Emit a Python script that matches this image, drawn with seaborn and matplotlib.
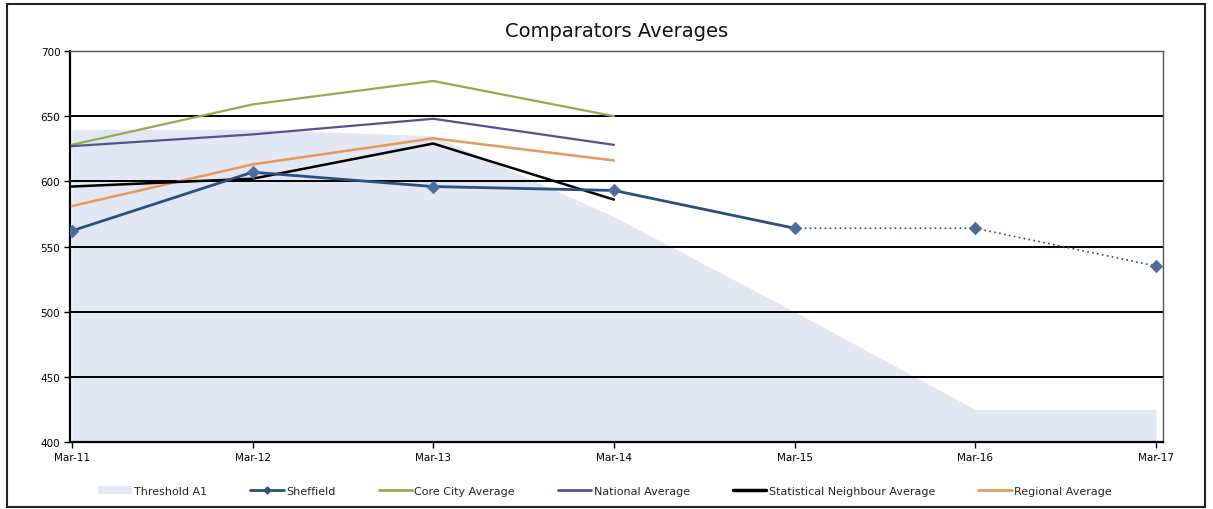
import matplotlib
matplotlib.use("Agg")
import matplotlib.pyplot as plt
import seaborn as sns
import pandas as pd
import numpy as np
from matplotlib.lines import Line2D
from matplotlib.patches import Patch, Rectangle

categories = ["Mar-11", "Mar-12", "Mar-13", "Mar-14", "Mar-15", "Mar-16", "Mar-17"]
threshold_a1 = [640, 640, 635, 573, 500, 425, 425]
sheffield = [562, 607, 596, 593, 564, 564, 535]
core_city = [628, 659, 677, 650]
national = [627, 636, 648, 628]
stat_neighbour = [596, 602, 629, 586]
regional = [581, 613, 633, 616]
y_ticks = [400, 450, 500, 550, 600, 650, 700]

sns.set_theme(style="white")
plt.rcParams["font.family"] = ["DejaVu Sans"]

fig = plt.figure(figsize=(12.13, 5.10), dpi=100)
ax = fig.add_axes([70 / 1213, 1 - 443 / 510, (1163 - 70) / 1213, (443 - 52) / 510])

x_all = np.arange(len(categories))
x4 = x_all[:4]

# Threshold area
ax.fill_between(x_all, 400, threshold_a1, color="#e1e8f3", linewidth=0, zorder=1)

# grid lines
for v in y_ticks[1:-1]:
    ax.axhline(v, color="black", lw=1.4, zorder=2)

col_core = "#93ad4c"
col_nat = "#5b4f8f"
col_stat = "#000000"
col_reg = "#e9975c"
col_sheff = "#2b4f80"

sns.lineplot(x=x4, y=core_city, ax=ax, color=col_core, lw=1.6, zorder=3)
sns.lineplot(x=x4, y=national, ax=ax, color=col_nat, lw=1.6, zorder=3)
sns.lineplot(x=x4, y=regional, ax=ax, color=col_reg, lw=1.8, zorder=3)
sns.lineplot(x=x4, y=stat_neighbour, ax=ax, color=col_stat, lw=1.8, zorder=4)

df_s = pd.DataFrame({"x": x_all, "y": sheffield})
sns.lineplot(data=df_s.iloc[:5], x="x", y="y", ax=ax, color=col_sheff, lw=2.0, zorder=5)
sns.lineplot(data=df_s.iloc[4:], x="x", y="y", ax=ax, color=col_sheff, lw=1.2,
             linestyle=(0, (1, 2)), zorder=5)
sns.scatterplot(data=df_s, x="x", y="y", ax=ax, marker="D", s=40, color="#4a6d9c",
                edgecolor="#4a6d9c", zorder=6)

ax.set_xlim(-0.01, 6 + 7 / 181)
ax.set_ylim(400, 700)
ax.set_xticks(x_all)
ax.set_xticklabels(categories)
ax.set_yticks(y_ticks)
ax.set_yticklabels([str(v) for v in y_ticks])
ax.tick_params(axis="both", labelsize=7.5, length=4, direction="out", colors="black",
               bottom=True, left=True, width=1, pad=3)
ax.set_xlabel("")
ax.set_ylabel("")
for s in ["left", "bottom"]:
    ax.spines[s].set_color("black")
    ax.spines[s].set_linewidth(1.6)
for s in ["top", "right"]:
    ax.spines[s].set_color("#555555")
    ax.spines[s].set_linewidth(1.0)
ax.set_title("Comparators Averages", fontsize=14, pad=11, color="#111111")

handles = [
    Patch(facecolor="#e1e8f3", edgecolor="none", label="Threshold A1"),
    Line2D([], [], color=col_sheff, lw=2, marker="D", markersize=3.5, label="Sheffield"),
    Line2D([], [], color=col_core, lw=2, label="Core City Average"),
    Line2D([], [], color=col_nat, lw=2, label="National Average"),
    Line2D([], [], color=col_stat, lw=2.5, label="Statistical Neighbour Average"),
    Line2D([], [], color=col_reg, lw=2, label="Regional Average"),
]
fig.legend(handles=handles, loc="center", bbox_to_anchor=(605 / 1213, 1 - 492 / 510), ncol=6,
           frameon=False, fontsize=8, handlelength=3.0, handletextpad=0.2, columnspacing=3.9)

fig.patches.append(Rectangle((7 / 1213, 1 - 508 / 510), (1205 - 7) / 1213, (508 - 5) / 510,
                             transform=fig.transFigure, fill=False, edgecolor="#222222", lw=1.5))

fig.savefig("out.png", dpi=100)
